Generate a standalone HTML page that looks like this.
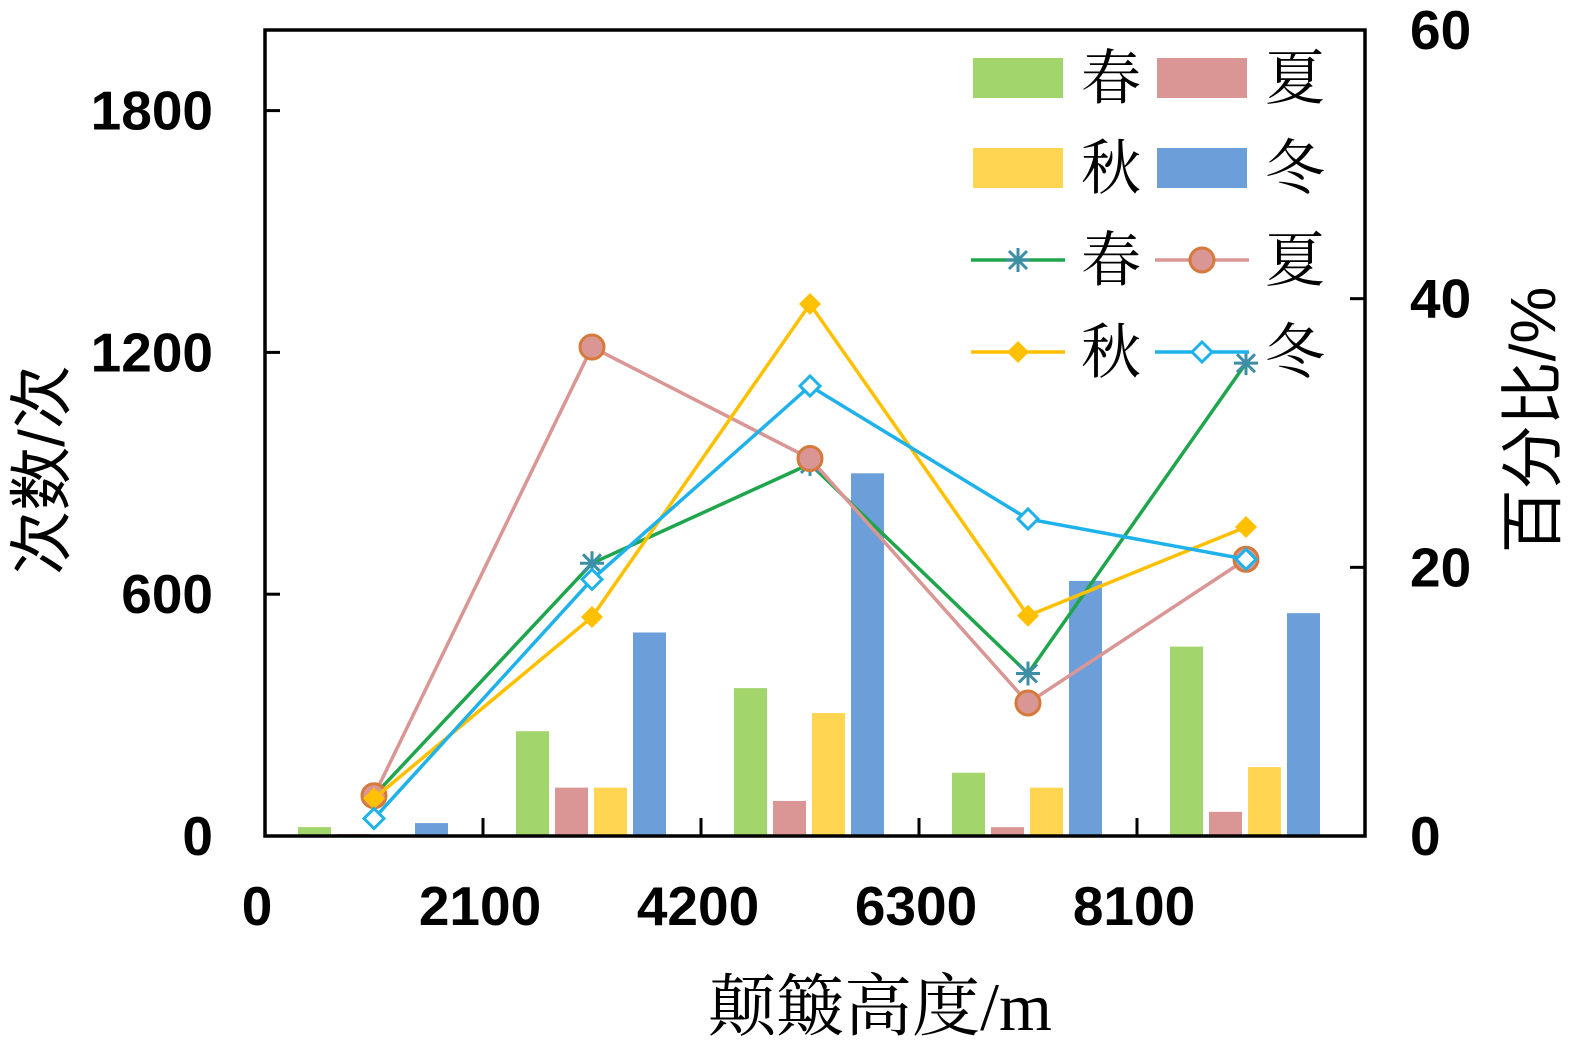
<!DOCTYPE html>
<html><head><meta charset="utf-8"><style>
body{margin:0;background:#fff}
svg text{font-family:"Liberation Sans","Noto Sans CJK SC",sans-serif}
.cjk{font-family:"Liberation Serif","Noto Serif CJK SC",serif}
</style></head><body>
<svg id="chart" width="1575" height="1049" xmlns="http://www.w3.org/2000/svg">
<g id="bars"></g>
<g id="lines"></g>
<g id="axes"></g>
<g id="legend"></g>
</svg>
<script>
const categories=["0-2100","2100-4200","4200-6300","6300-8100","8100+"];
const seasons=["春","夏","秋","冬"];
const barSpring=[22,260,367,157,470];
const barSummer=[5,120,87,22,60];
const barAutumn=[3,120,305,120,171];
const barWinter=[32,505,900,633,553];
const pctSpring=[3.0,20.3,27.7,12.1,35.2];
const pctSummer=[3.0,36.4,28.1,9.9,20.6];
const pctAutumn=[2.8,16.3,39.6,16.4,23.0];
const pctWinter=[1.3,19.1,33.5,23.6,20.6];
const leftTicks=[0,600,1200,1800];
const rightTicks=[0,20,40,60];
const xTickLabels=["0","2100","4200","6300","8100"];

const NS="http://www.w3.org/2000/svg";
const X0=265,X1=1365,Y0=836,YT=30,GW=218;
const yL=v=>Y0-v*(Y0-YT)/2000;
const yR=v=>Y0-v*(Y0-YT)/60;
const gc=i=>X0+GW*(i+0.5);
function mk(p,t,a){const e=document.createElementNS(NS,t);for(const k in a)e.setAttribute(k,a[k]);p.appendChild(e);return e;}
const barsG=document.getElementById('bars'),linesG=document.getElementById('lines'),axG=document.getElementById('axes'),lgG=document.getElementById('legend');
const barSeries=[barSpring,barSummer,barAutumn,barWinter];
const barColors=["#a2d56b","#d99694","#ffd552","#6c9fd9"];
barSeries.forEach((s,si)=>{s.forEach((v,i)=>{
 const x=gc(i)-76+si*39;
 const r=mk(barsG,'rect',{x:x,y:yL(v),width:33,height:Y0-yL(v),fill:barColors[si]});
 
 
});});
const lineSeries=[pctSpring,pctSummer,pctAutumn,pctWinter];
const lineColors=["#1fa54c","#d99694","#ffc000","#1fb2ea"];
function marker(g,k,x,y){
 if(k===0){mk(g,'path',{d:`M${x-12} ${y}H${x+12}M${x} ${y-12}V${y+12}M${x-9} ${y-9}L${x+9} ${y+9}M${x-9} ${y+9}L${x+9} ${y-9}`,stroke:"#3d8fa6","stroke-width":3,fill:"none"});}
 else if(k===1){mk(g,'circle',{cx:x,cy:y,r:12,fill:"#d99694",stroke:"#d57a3a","stroke-width":3});}
 else if(k===2){mk(g,'path',{d:`M${x} ${y-11}L${x+11} ${y}L${x} ${y+11}L${x-11} ${y}Z`,fill:"#ffc000"});}
 else {mk(g,'path',{d:`M${x} ${y-10}L${x+10} ${y}L${x} ${y+10}L${x-10} ${y}Z`,fill:"#fff",stroke:"#1fb2ea","stroke-width":3});}
}
lineSeries.forEach((s,si)=>{
 const g=mk(linesG,'g',{});
 
 
 mk(g,'polyline',{points:s.map((v,i)=>gc(i)+','+yR(v)).join(' '),fill:'none',stroke:lineColors[si],'stroke-width':3.5});
 s.forEach((v,i)=>marker(g,si,gc(i),yR(v)));
});
mk(axG,'rect',{x:X0,y:YT,width:X1-X0,height:Y0-YT,fill:'none',stroke:'#000','stroke-width':3.5});
leftTicks.forEach(v=>{mk(axG,'line',{x1:X0,x2:X0+15,y1:yL(v),y2:yL(v),stroke:'#000','stroke-width':3});
 const t=mk(axG,'text',{x:213,y:yL(v)+19,'text-anchor':'end','font-size':55,'font-weight':'bold'});t.textContent=v;
 });
rightTicks.forEach(v=>{mk(axG,'line',{x1:X1-15,x2:X1,y1:yR(v),y2:yR(v),stroke:'#000','stroke-width':3});
 const t=mk(axG,'text',{x:1410,y:yR(v)+19,'font-size':55,'font-weight':'bold'});t.textContent=v;
 });
xTickLabels.forEach((l,i)=>{const x=X0+GW*i;
 if(i>0)mk(axG,'line',{x1:x,x2:x,y1:Y0,y2:Y0-18,stroke:'#000','stroke-width':3});
 const t=mk(axG,'text',{x:i==0?257:x-3,y:925,'text-anchor':'middle','font-size':55,'font-weight':'bold'});t.textContent=l;
 });
let t=mk(axG,'text',{x:880,y:1030,'text-anchor':'middle','font-size':68,'class':'cjk'});t.textContent="颠簸高度/m";

t=mk(axG,'text',{x:0,y:0,'text-anchor':'middle','font-size':64,transform:'translate(64,470) rotate(-90)'});t.textContent="次数/次";

t=mk(axG,'text',{x:0,y:0,'text-anchor':'middle','font-size':64,transform:'translate(1555,420) rotate(-90)'});t.textContent="百分比/%";

const rows=[78,168,260,352];
[0,1,2,3].forEach(si=>{
 const col=si%2,row=Math.floor(si/2);
 const sx=col?1157:973;
 const g=mk(lgG,'g',{});
 mk(g,'rect',{x:sx,y:rows[row]-20,width:90,height:40,fill:barColors[si]});
 const tx=mk(g,'text',{x:sx+108,y:rows[row]+21,'font-size':60,'class':'cjk'});tx.textContent=seasons[si];
 const g2=mk(lgG,'g',{});
 const y=rows[row+2];
 mk(g2,'line',{x1:sx-2,x2:sx+92,y1:y,y2:y,stroke:lineColors[si],'stroke-width':3.5});
 marker(g2,si,sx+45,y);
 const tx2=mk(g2,'text',{x:sx+108,y:y+21,'font-size':60,'class':'cjk'});tx2.textContent=seasons[si];
});
</script>
</body></html>
